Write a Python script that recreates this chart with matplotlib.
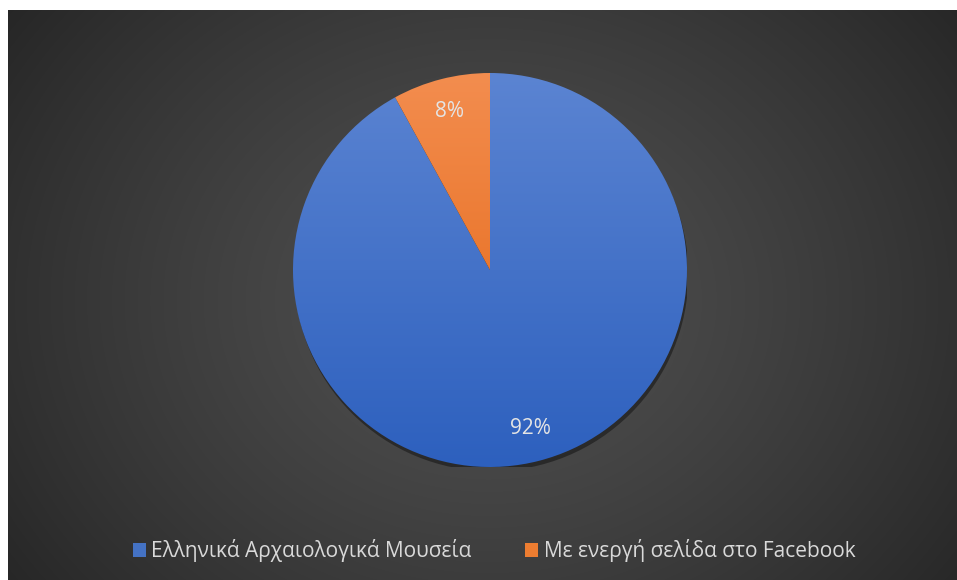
import numpy as np
import matplotlib
matplotlib.use("Agg")
import matplotlib.pyplot as plt
from matplotlib.patches import Patch
from matplotlib.colors import LinearSegmentedColormap
import matplotlib.patheffects as pe

plt.rcParams['font.family'] = ['Open Sans', 'DejaVu Sans']

# Μουσεία με ενεργή σελίδα στο Facebook
labels = ['Ελληνικά Αρχαιολογικά Μουσεία', 'Με ενεργή σελίδα στο Facebook']
shares = [92, 8]
# (πάνω, κάτω) χρώματα για την κατακόρυφη διαβάθμιση κάθε φέτας
grad_colors = [('#5B84D2', '#2D60BE'), ('#F38D4F', '#E2620E')]
legend_colors = ['#4472C4', '#ED7D31']

W, H, DPI = 957, 580, 100
fig = plt.figure(figsize=(W / DPI, H / DPI), dpi=DPI, facecolor='white')

# σκούρο ακτινωτό φόντο
bg = fig.add_axes([8 / W, 0, (W - 8) / W, (H - 10) / H])
bg.set_axis_off()
yy, xx = np.mgrid[0:H - 10, 0:W - 8]
cx, cy = 480, 290
r = np.sqrt(((xx - cx) / 620) ** 2 + ((yy - cy) / 520) ** 2)
r = np.clip(r, 0, 1)
c0, c1 = 0x50, 0x24
val = (c0 + (c1 - c0) * r ** 1.3) / 255
bg.imshow(np.dstack([val, val, val]), aspect='auto', interpolation='bilinear')

# πίτα
R = 197
px, py = 490, 270
ax = fig.add_axes([(px - R) / W, (H - py - R) / H, 2 * R / W, 2 * R / H])
wedges, texts, autotexts = ax.pie(
    shares, startangle=90, counterclock=False, radius=1,
    autopct='%1.0f%%', pctdistance=0.83,
    wedgeprops=dict(linewidth=0),
    textprops=dict(color='#E4E4E4', fontsize=15))
ax.set_xlim(-1, 1)
ax.set_ylim(-1, 1)

for w, (top, bot) in zip(wedges, grad_colors):
    w.set_facecolor('none')
    cmap = LinearSegmentedColormap.from_list('g', [top, bot])
    grad = np.linspace(0, 1, 256).reshape(-1, 1)
    im = ax.imshow(grad, cmap=cmap, extent=[-1, 1, -1, 1], origin='upper',
                   aspect='auto', zorder=0.5)
    im.set_clip_path(w)

# σκιά κάτω από την πίτα
shadow = plt.Circle((0, 0), 1, transform=ax.transData, facecolor='black',
                    edgecolor='none', zorder=0.4)
ax.add_patch(shadow)
shadow.set_path_effects([pe.SimplePatchShadow(offset=(1, -3), alpha=0.4,
                                              shadow_rgbFace='black')])

for t in autotexts:
    t.set_zorder(5)

handles = [Patch(facecolor=c, edgecolor='none') for c in legend_colors]
leg = fig.legend(handles, labels, loc='center', ncol=2,
                 bbox_to_anchor=(494 / W, 1 - 551 / H), frameon=False,
                 fontsize=15, labelcolor='#D9D9D9', handlelength=0.62,
                 handleheight=0.62, handletextpad=0.25, columnspacing=2.6,
                 borderpad=0, borderaxespad=0)

fig.savefig('out.png', dpi=DPI, facecolor='white')
